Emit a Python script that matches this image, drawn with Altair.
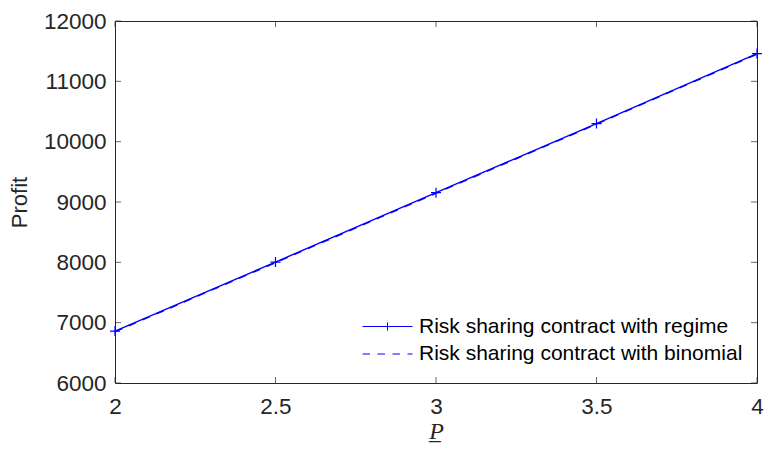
import altair as alt
import pandas as pd

# ---- data ----
p_vals = [2.0, 2.5, 3.0, 3.5, 4.0]
regime_profit = [6860, 8005, 9155, 10300, 11460]
binomial_profit = [6850, 7995, 9145, 10290, 11450]
series_names = ["Risk sharing contract with regime", "Risk sharing contract with binomial"]
x_ticks = [2, 2.5, 3, 3.5, 4]
y_ticks = [6000, 7000, 8000, 9000, 10000, 11000, 12000]

BLUE = "#0000FF"
AX = "#262626"
W, H = 642, 362

regime_df = pd.DataFrame({"P": p_vals, "Profit": regime_profit, "series": series_names[0]})
binom_df = pd.DataFrame({"P": p_vals, "Profit": binomial_profit, "series": series_names[1]})
both_df = pd.concat([regime_df, binom_df], ignore_index=True)
xt_df = pd.DataFrame({"P": x_ticks})
yt_df = pd.DataFrame({"Profit": y_ticks})

xscale = alt.Scale(domain=[2, 4], nice=False, zero=False)
yscale = alt.Scale(domain=[6000, 12000], nice=False, zero=False)

x_axis = alt.Axis(values=x_ticks, format="~g", title="P\u0332", labelPadding=12, labelFlush=False,
                  titleFont="Liberation Serif", titleFontStyle="italic", titleFontWeight="normal",
                  titleFontSize=24, titlePadding=2)
y_axis = alt.Axis(values=y_ticks, format="d", title="Profit", labelPadding=9, labelFlush=False,
                  titleFontSize=22, titlePadding=12)
x_enc = alt.X("P:Q", scale=xscale, axis=x_axis)
y_enc = alt.Y("Profit:Q", scale=yscale, axis=y_axis)

line_binom = alt.Chart(binom_df).mark_line(color=BLUE, strokeWidth=1.4, strokeDash=[8, 7]).encode(x=x_enc, y=y_enc)
line_regime = alt.Chart(regime_df).mark_line(color=BLUE, strokeWidth=1.4).encode(x=x_enc, y=y_enc)

plus_path = "M-1,0H1M0,-1V1"
markers = alt.Chart(regime_df).mark_point(
    shape=plus_path, filled=False, color=BLUE, size=100, strokeWidth=1.2, opacity=1
).encode(x=x_enc, y=y_enc)

regime_sym = "M-2.5,0H2.5M0,-0.4V0.4"
binom_sym = "M-2.5,0H-1.75M-1,0H-0.25M0.5,0H1.25M2,0H2.5"
legend_layer = alt.Chart(both_df).mark_point(filled=False, size=400, strokeWidth=1).encode(
    x=x_enc, y=y_enc,
    shape=alt.Shape("series:N",
                    scale=alt.Scale(domain=series_names, range=[regime_sym, binom_sym]),
                    legend=alt.Legend(title=None, orient="none", legendX=262, legendY=295,
                                      symbolSize=400, symbolStrokeWidth=1, symbolStrokeColor=BLUE,
                                      labelFont="Liberation Sans", labelFontSize=21, labelColor="#000000",
                                      labelLimit=0, labelOffset=21, rowPadding=5.5, padding=0)),
    color=alt.value(BLUE),
    opacity=alt.value(0),
)

tick_len = 6
left_ticks = alt.Chart(yt_df).mark_tick(orient="horizontal", color=AX, size=tick_len, thickness=1).encode(
    y=y_enc, x=alt.value(tick_len / 2))
right_ticks = alt.Chart(yt_df).mark_tick(orient="horizontal", color=AX, size=tick_len, thickness=1).encode(
    y=y_enc, x=alt.value(W - tick_len / 2))
bottom_ticks = alt.Chart(xt_df).mark_tick(orient="vertical", color=AX, size=tick_len, thickness=1).encode(
    x=x_enc, y=alt.value(H - tick_len / 2))
top_ticks = alt.Chart(xt_df).mark_tick(orient="vertical", color=AX, size=tick_len, thickness=1).encode(
    x=x_enc, y=alt.value(tick_len / 2))

chart = alt.layer(
    line_binom, line_regime, markers, legend_layer,
    left_ticks, right_ticks, bottom_ticks, top_ticks,
).properties(
    width=W, height=H,
    autosize=alt.AutoSizeParams(type="none"),
    padding={"left": 107, "top": 13, "right": 7, "bottom": 60},
    background="white",
).configure_view(
    stroke=AX, strokeWidth=1,
).configure_axis(
    domain=False, ticks=False, grid=False,
    labelFont="Liberation Sans", labelFontSize=22.5, labelColor=AX,
    titleFont="Liberation Sans", titleColor=AX, titleFontWeight="normal",
)

chart.save("out.html", embed_options={"renderer": "svg", "actions": False})
